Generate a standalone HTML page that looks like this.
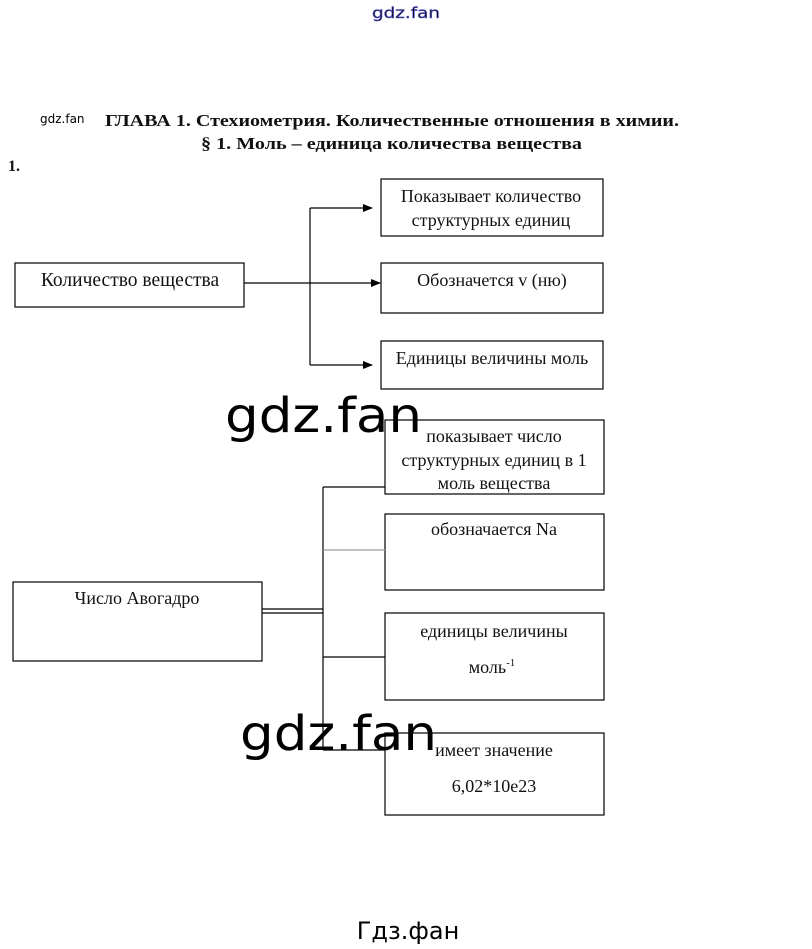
<!DOCTYPE html>
<html><head><meta charset="utf-8"><style>
html,body{margin:0;padding:0;background:#fff;width:812px;height:949px;overflow:hidden}
svg{display:block}
.s{font-family:"Liberation Serif","Noto Serif CJK SC",serif;fill:#111}
.w{font-family:"DejaVu Sans","Liberation Sans",sans-serif;fill:#000}
</style></head><body>
<svg width="812" height="949" viewBox="0 0 812 949" xmlns="http://www.w3.org/2000/svg">
<defs><marker id="a" markerWidth="10" markerHeight="8" refX="9" refY="4" orient="auto" markerUnits="userSpaceOnUse"><path d="M0,0 L10,4 L0,8 z" fill="#000"/></marker></defs>
<text x="372" y="18" class="w" font-size="15" textLength="68" lengthAdjust="spacingAndGlyphs" fill="none" stroke="#6666dd" stroke-width="0.6">gdz.fan</text>
<text x="40" y="123" class="w" font-size="12">gdz.fan</text>
<text x="105" y="126" class="s" font-size="17" font-weight="bold" textLength="574" lengthAdjust="spacingAndGlyphs">ГЛАВА 1. Стехиометрия. Количественные отношения в химии.</text>
<text x="201" y="149" class="s" font-size="17" font-weight="bold" textLength="381" lengthAdjust="spacingAndGlyphs">§ 1.  Моль – единица количества вещества</text>
<text x="8" y="171" class="s" font-size="16" font-weight="bold">1.</text>
<g fill="none" stroke="#000" stroke-width="1.2">
<rect x="15" y="263" width="229" height="44"/>
<rect x="381" y="179" width="222" height="57"/>
<rect x="381" y="263" width="222" height="50"/>
<rect x="381" y="341" width="222" height="48"/>
<line x1="244" y1="283" x2="380" y2="283" marker-end="url(#a)"/>
<line x1="310" y1="208" x2="310" y2="365"/>
<line x1="310" y1="208" x2="372" y2="208" marker-end="url(#a)"/>
<line x1="310" y1="365" x2="372" y2="365" marker-end="url(#a)"/>
<rect x="13" y="582" width="249" height="79"/>
<rect x="385" y="420" width="219" height="74"/>
<rect x="385" y="514" width="219" height="76"/>
<rect x="385" y="613" width="219" height="87"/>
<rect x="385" y="733" width="219" height="82"/>
<line x1="262" y1="609" x2="323" y2="609"/>
<line x1="262" y1="613" x2="323" y2="613"/>
<line x1="323" y1="487" x2="323" y2="750"/>
<line x1="323" y1="487" x2="385" y2="487"/>
<line x1="323" y1="550" x2="385" y2="550" stroke="#999"/>
<line x1="323" y1="657" x2="385" y2="657"/>
<line x1="323" y1="750" x2="385" y2="750"/>
</g>
<g class="s" font-size="18" text-anchor="middle">
<text x="130" y="286" font-size="19.5">Количество вещества</text>
<text x="491" y="202">Показывает количество</text>
<text x="491" y="226">структурных единиц</text>
<text x="492" y="286">Обозначется v (ню)</text>
<text x="492" y="364">Единицы величины моль</text>
<text x="137" y="604">Число Авогадро</text>
<text x="494" y="442">показывает число</text>
<text x="494" y="466">структурных единиц в 1</text>
<text x="494" y="489">моль вещества</text>
<text x="494" y="535">обозначается Na</text>
<text x="494" y="637">единицы величины</text>
<text x="492" y="673">моль<tspan font-size="11" dy="-7">-1</tspan></text>
<text x="494" y="756">имеет значение</text>
<text x="494" y="792">6,02*10e23</text>
</g>
<text x="225" y="432" class="w" font-size="48" textLength="197" lengthAdjust="spacingAndGlyphs">gdz.fan</text>
<text x="240" y="750" class="w" font-size="48" textLength="197" lengthAdjust="spacingAndGlyphs">gdz.fan</text>
<text x="408" y="939" class="w" font-size="24" text-anchor="middle">Гдз.фан</text>
</svg>
</body></html>
